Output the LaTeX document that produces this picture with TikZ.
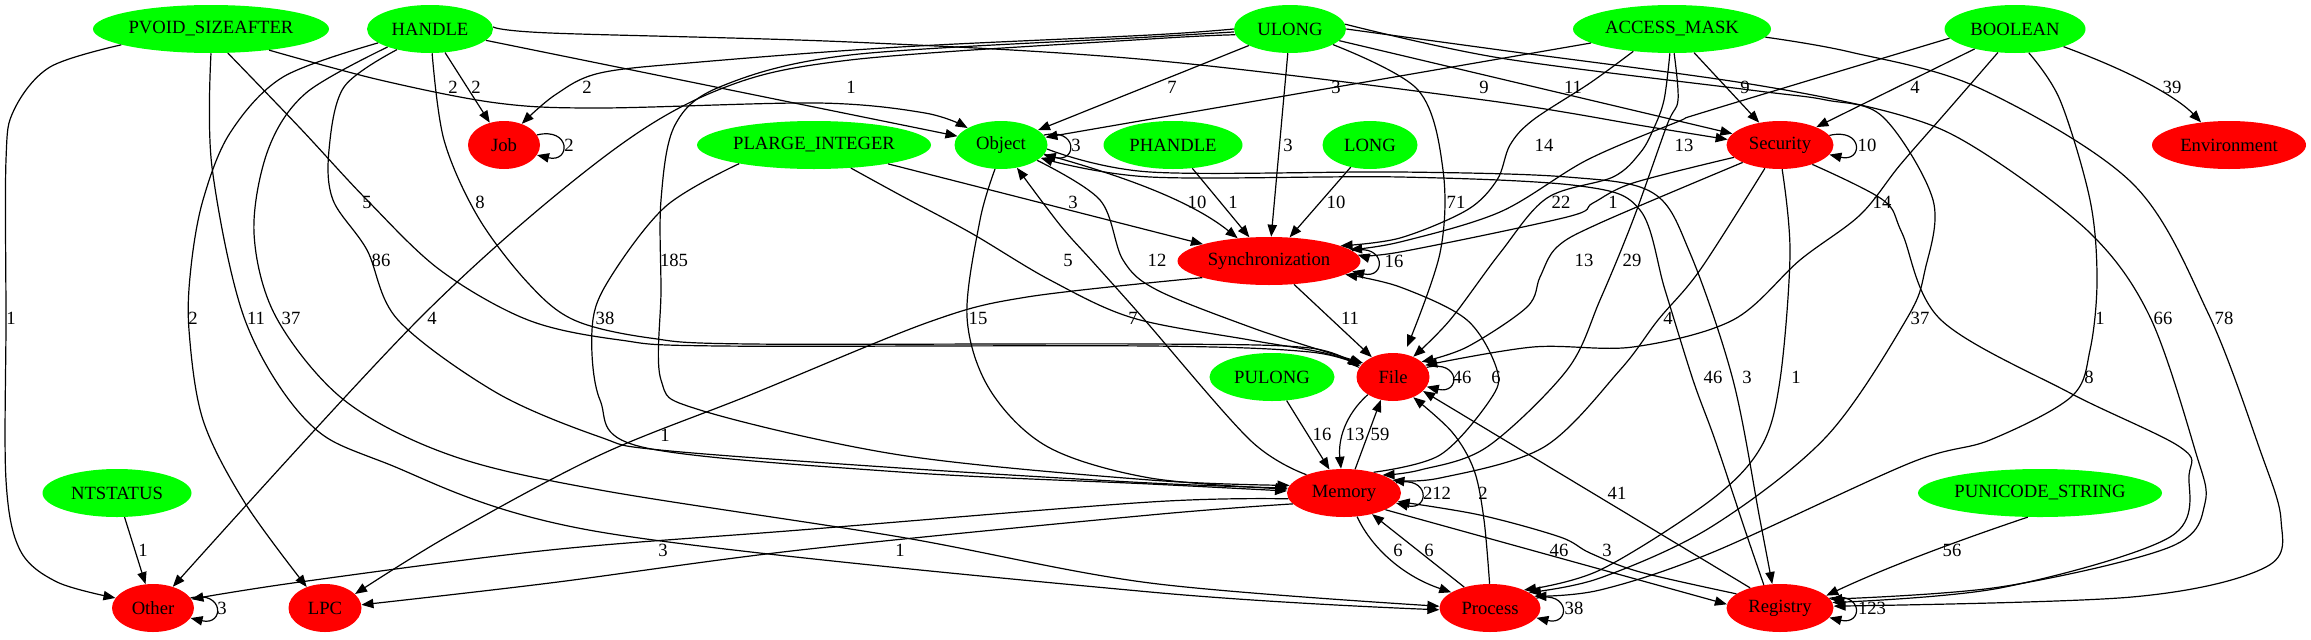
\documentclass[tikz,border=0pt]{standalone}
\usepackage{fontspec}
\setmainfont{Liberation Serif}
\usetikzlibrary{shapes.geometric,arrows.meta}
\definecolor{gv}{RGB}{0,255,0}
\definecolor{rv}{RGB}{255,0,0}
\tikzset{
 nd/.style={ellipse, inner sep=0pt, minimum height=36pt, font=\fontsize{14}{16}\selectfont},
 tnode/.style={nd, fill=gv, minimum width=#1*0.75pt},
 cnode/.style={nd, fill=rv, minimum width=#1*0.75pt},
 e/.style={line width=0.9pt, -{Triangle[length=9pt,width=7pt]}},
 lab/.style={font=\fontsize{14}{16}\selectfont, inner sep=0pt},
 sm/.style={smooth, tension=0.55},
}
\begin{document}
\begin{tikzpicture}[x=0.75pt,y=-0.75pt]
\useasboundingbox (0,0) rectangle (2311,639);
% nodes
\node[tnode=236] (pv) at (211,29) {PVOID\_SIZEAFTER};
\node[tnode=126] (ha) at (430,29) {HANDLE};
\node[tnode=112] (ul) at (1290,29) {ULONG};
\node[tnode=198] (am) at (1672,29) {ACCESS\_MASK};
\node[tnode=141] (bo) at (2015,29) {BOOLEAN};
\node[cnode=72] (job) at (504,145) {Job};
\node[tnode=234] (pl) at (814,145) {PLARGE\_INTEGER};
\node[tnode=93] (ob) at (1001,145) {Object};
\node[tnode=139] (ph) at (1173,145) {PHANDLE};
\node[tnode=95] (lo) at (1370,145) {LONG};
\node[cnode=107] (se) at (1780,145) {Security};
\node[cnode=154] (en) at (2229,145) {Environment};
\node[cnode=183] (sy) at (1269,261) {Synchronization};
\node[tnode=125] (pu) at (1272,377) {PULONG};
\node[cnode=73] (fi) at (1393,377) {File};
\node[tnode=149] (nt) at (117,493) {NTSTATUS};
\node[cnode=114] (me) at (1344,493) {Memory};
\node[tnode=244] (pus) at (2040,493) {PUNICODE\_STRING};
\node[cnode=82] (ot) at (153,608) {Other};
\node[cnode=73] (lpc) at (325,608) {LPC};
\node[cnode=101] (pr) at (1490,608) {Process};
\node[cnode=107] (re) at (1780,608) {Registry};
% edges
\draw[e] plot[sm] coordinates {(pv.190) (50,67) (14,110) (6,160) (6,320) (6,480) (20,550) (57,582) (ot.165)};
\draw[e] plot[sm] coordinates {(pv.-20) (380,80) (497,103) (600,108) (818,103) (925,113) (ob.153)};
\draw[e] plot[sm] coordinates {(pv.-55) (300,128) (367,200) (440,270) (528,320) (620,340) (720,346) (1150,346) (1310,352) (fi.162)};
\draw[e] plot[sm] coordinates {(pv.-90) (212,167) (245,320) (306,420) (383,462) (600,532) (1150,592) (pr.182)};
\draw[e] (ha) -- (job);
\draw[e] (ha) -- (ob);
\draw[e] plot[sm] coordinates {(ha.2) (550,33) (850,42) (1150,60) (1484,100) (1650,127) (se.174)};
\draw[e] plot[sm] coordinates {(ha.195) (283,77) (230,133) (203,200) (191,267) (189,330) (203,420) (245,503) (lpc.131)};
\draw[e] plot[sm] coordinates {(ha.203) (306,93) (268,150) (254,233) (276,317) (344,400) (450,455) (600,490) (900,537) (1150,583) (pr.178)};
\draw[e] plot[sm] coordinates {(ha.212) (344,87) (329,150) (333,200) (367,250) (398,320) (497,393) (600,437) (660,450) (900,468) (1150,483) (me.175)};
\draw[e] plot[sm] coordinates {(ha.-85) (444,140) (478,217) (528,283) (574,320) (650,338) (750,344) (1150,344) (1310,348) (fi.165)};
\draw[e] plot[sm] coordinates {(ul.180) (1150,35) (900,47) (700,62) (600,73) (555,95) (job.50)};
\draw[e] (ul) -- (ob);
\draw[e] (ul) -- (sy);
\draw[e] plot[sm] coordinates {(ul.-20) (1418,90) (1443,170) (1440,253) (1407,347)};
\draw[e] (ul) -- (se);
\draw[e] plot[sm] coordinates {(ul.5) (1500,58) (1750,90) (1826,100) (1883,117) (1933,200) (1925,270) (1906,320) (1826,437) (1711,527) (1600,578) (pr.22)};
\draw[e] plot[sm] coordinates {(ul.0) (1500,50) (1750,84) (1900,115) (1979,150) (2090,233) (2150,317) (2195,450) (2205,503) (2170,547) (2000,587) (re.10)};
\draw[e] plot[sm] coordinates {(ul.183) (1150,37) (850,55) (722,86) (675,125) (661,200) (661,290) (661,380) (700,410) (900,455) (1150,480) (me.172)};
\draw[e] plot[sm] coordinates {(ul.186) (1150,39) (850,60) (718,90) (600,160) (421,317) (ot.47)};
\draw[e] (am) -- (ob);
\draw[e] plot[sm] coordinates {(am.210) (1590,83) (1533,120) (1510,145) (1497,180) (1467,210) (1400,238) (sy.12)};
\draw[e] plot[sm] coordinates {(am.-95) (1664,100) (1653,130) (1640,153) (1613,177) (1547,198) (1500,253) (1450,320) (fi.45)};
\draw[e] (am) -- (se);
\draw[e] plot[sm] coordinates {(am.-85) (1678,100) (1667,125) (1633,220) (1600,300) (1567,370) (1487,447) (1420,470) (me.25)};
\draw[e] plot[sm] coordinates {(am.-5) (1850,52) (1979,88) (2132,183) (2208,313) (2260,450) (2281,520) (2266,567) (2132,597) (re.2)};
\draw[e] plot[sm] coordinates {(bo.188) (1711,110) (1677,122) (1587,160) (1500,212) (1400,242) (sy.8)};
\draw[e] (bo) -- (se);
\draw[e] (bo.-20) .. controls (2140,75) and (2180,100) .. (en.141);
\draw[e] plot[sm] coordinates {(bo.-126) (1948,110) (1900,165) (1860,215) (1800,260) (1733,320) (1633,347) (1533,347) (fi.20)};
\draw[e] plot[sm] coordinates {(bo.-60) (2060,100) (2090,200) (2097,280) (2090,350) (2071,397) (1990,440) (1910,463) (1711,553) (1600,590) (pr.15)};
\draw[e] plot[sm] coordinates {(se.195) (1633,183) (1593,203) (1567,217) (1400,252) (sy.4)};
\draw[e] plot[sm] coordinates {(se.205) (1600,223) (1557,247) (1540,277) (1527,307) (1467,347) (fi.28)};
\draw[e] plot[sm] coordinates {(se.-123) (1700,270) (1658,320) (1620,370) (1544,447) (1440,478) (me.15)};
\draw[e] plot[sm] coordinates {(se.-85) (1790,253) (1780,380) (1761,447) (1711,500) (1600,570) (pr.28)};
\draw[e] plot[sm] coordinates {(se.-31) (1883,200) (1902,233) (1941,320) (2070,393) (2180,447) (2189,475) (2170,537) (2000,588) (re.6)};
\draw[e] (ob.-12) .. controls (1120,175) and (1190,200) .. (sy.144);
\draw[e] plot[sm] coordinates {(ob.-23) (1100,200) (1123,260) (1157,290) (1250,327) (1320,350) (fi.155)};
\draw[e] plot[sm] coordinates {(ob.-104) (980,220) (967,317) (990,390) (1048,447) (1150,478) (me.176)};
\draw[e] plot[sm] coordinates {(ob.-5) (1150,172) (1400,172) (1567,177) (1653,193) (1690,253) (1733,380) (1760,520) (re.108)};
\draw[e] plot[sm] coordinates {(re.125) (1745,530) (1715,440) (1693,380) (1665,290) (1640,210) (1580,186) (1400,177) (1150,177) (ob.-18)};
\draw[e] plot[sm] coordinates {(me.154) (1250,440) (1143,318) (1093,262) (1060,225) (ob.-55)};
\draw[e] (pl) -- (sy);
\draw[e] plot[sm] coordinates {(pl.-32) (900,195) (971,233) (1050,280) (1133,318) (1250,340) (1320,352) (fi.158)};
\draw[e] plot[sm] coordinates {(pl.194) (665,207) (607,283) (592,330) (600,400) (642,447) (900,472) (1150,484) (me.178)};
\draw[e] (ph) -- (sy);
\draw[e] (lo) -- (sy);
\draw[e] (sy) -- (fi);
\draw[e] plot[sm] coordinates {(sy.194) (1027,297) (929,322) (750,395) (600,455) (450,535) (lpc.25)};
\draw[e] (me.65) -- (fi.-118);
\draw[e] (fi.215) .. controls (1345,415) and (1338,440) .. (me.97);
\draw[e] (pu) -- (me);
\draw[e] plot[sm] coordinates {(me.35) (1440,455) (1490,400) (1497,370) (1467,320) (1400,287) (sy.-10)};
\draw[e] plot[sm] coordinates {(me.186) (1150,502) (800,530) (550,550) (300,582) (ot.13)};
\draw[e] plot[sm] coordinates {(me.192) (1150,515) (800,550) (550,583) (lpc.5)};
\draw[e] (me.-61) .. controls (1370,545) and (1400,575) .. (pr.158);
\draw[e] (pr.141) -- (me.-37);
\draw[e] plot[sm] coordinates {(pr.91) (1484,520) (1474,470) (1452,432) (fi.-45)};
\draw[e] (re.146) -- (fi.-25);
\draw[e] plot[sm] coordinates {(re.162) (1640,572) (1590,553) (1560,537) (1480,515) (me.-9)};
\draw[e] (me.-22) -- (re.176);
\draw[e] (nt) -- (ot);
\draw[e] (pus.-117) .. controls (1930,550) and (1870,575) .. (re.15);
% self loops
\foreach \n/\a in {job/17,ob/13,se/11,sy/7,fi/16,me/11,pr/12,re/11,ot/15}{
  \draw[e] (\n.\a) .. controls +(34,-8) and +(34,8) .. (\n.-\a);
}
% labels
\node[lab] (l1) at (11,318) {1};
\node[lab] (l2) at (453,87) {2};
\node[lab] (l3) at (367,202) {5};
\node[lab] (l4) at (256,318) {11};
\node[lab] (l5) at (476,87) {2};
\node[lab] (l6) at (851,87) {1};
\node[lab] (l7) at (1484,87) {9};
\node[lab] (l8) at (193,318) {2};
\node[lab] (l9) at (291,318) {37};
\node[lab] (l10) at (381,260) {86};
\node[lab] (l11) at (480,202) {8};
\node[lab] (l12) at (587,87) {2};
\node[lab] (l13) at (1172,87) {7};
\node[lab] (l14) at (1288,145) {3};
\node[lab] (l15) at (1456,202) {71};
\node[lab] (l16) at (1573,87) {11};
\node[lab] (l17) at (1920,318) {37};
\node[lab] (l18) at (2163,318) {66};
\node[lab] (l19) at (674,260) {185};
\node[lab] (l20) at (432,318) {4};
\node[lab] (l21) at (1336,87) {3};
\node[lab] (l22) at (1544,145) {14};
\node[lab] (l23) at (1561,202) {22};
\node[lab] (l24) at (1745,87) {9};
\node[lab] (l25) at (1632,260) {29};
\node[lab] (l26) at (2224,318) {78};
\node[lab] (l27) at (1684,145) {13};
\node[lab] (l28) at (1915,87) {4};
\node[lab] (l29) at (2172,87) {39};
\node[lab] (l30) at (1882,202) {14};
\node[lab] (l31) at (2100,318) {1};
\node[lab] (l32) at (1613,202) {1};
\node[lab] (l33) at (1584,260) {13};
\node[lab] (l34) at (1668,318) {4};
\node[lab] (l35) at (1796,377) {1};
\node[lab] (l36) at (2089,377) {8};
\node[lab] (l37) at (1197,202) {10};
\node[lab] (l38) at (1157,260) {12};
\node[lab] (l39) at (978,318) {15};
\node[lab] (l40) at (1713,377) {46};
\node[lab] (l41) at (1747,377) {3};
\node[lab] (l42) at (1133,318) {7};
\node[lab] (l43) at (1073,202) {3};
\node[lab] (l44) at (1068,260) {5};
\node[lab] (l45) at (605,318) {38};
\node[lab] (l46) at (1233,202) {1};
\node[lab] (l47) at (1336,202) {10};
\node[lab] (l48) at (1350,318) {11};
\node[lab] (l49) at (665,435) {1};
\node[lab] (l50) at (1380,434) {59};
\node[lab] (l51) at (1355,434) {13};
\node[lab] (l52) at (1322,434) {16};
\node[lab] (l53) at (1496,377) {6};
\node[lab] (l54) at (663,550) {3};
\node[lab] (l55) at (900,550) {1};
\node[lab] (l56) at (1398,550) {6};
\node[lab] (l57) at (1429,550) {6};
\node[lab] (l58) at (1483,493) {2};
\node[lab] (l59) at (1617,493) {41};
\node[lab] (l60) at (1607,550) {3};
\node[lab] (l61) at (1559,550) {46};
\node[lab] (l62) at (143,550) {1};
\node[lab] (l63) at (1952,550) {56};
\node[lab] (s1) at (569,145) {2};
\node[lab] (s2) at (1076,145) {3};
\node[lab] (s3) at (1867,145) {10};
\node[lab] (s4) at (1394,261) {16};
\node[lab] (s5) at (1462,377) {46};
\node[lab] (s6) at (1437,493) {212};
\node[lab] (s7) at (1574,608) {38};
\node[lab] (s8) at (1872,608) {123};
\node[lab] (s9) at (222,608) {3};
\end{tikzpicture}
\end{document}
